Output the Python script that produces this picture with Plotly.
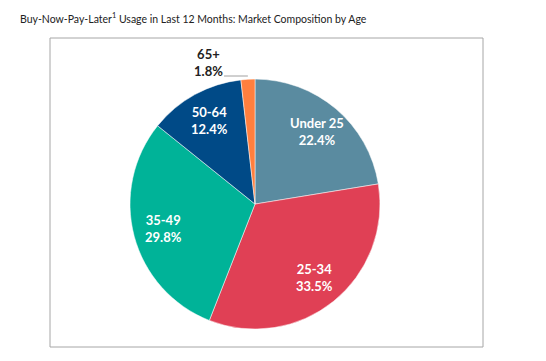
import math
import plotly.graph_objects as go

categories = ["Under 25", "25-34", "35-49", "50-64", "65+"]
shares = [22.4, 33.5, 29.8, 12.4, 1.8]
colors = ["#5A8BA0", "#E04055", "#00B398", "#004A87", "#FF7F3E"]
title_text = "Buy-Now-Pay-Later<sup>1</sup> Usage in Last 12 Months: Market Composition by Age"

W, H = 546, 361
ML, MR, MT, MB = 42, 71, 30, 22
PW, PH = W - ML - MR, H - MT - MB
DOM_X = [0.1848, 0.7621]
DOM_Y = [0.058, 0.867]

fig = go.Figure(go.Pie(
    labels=categories,
    values=shares,
    sort=False,
    direction="clockwise",
    rotation=0,
    marker=dict(colors=colors, line=dict(color="white", width=0.5)),
    textinfo="none",
    domain=dict(x=DOM_X, y=DOM_Y),
    showlegend=False,
    hoverinfo="skip",
))

# pie geometry in pixels within the paper area
cx = (DOM_X[0] + DOM_X[1]) / 2 * PW
cy = (DOM_Y[0] + DOM_Y[1]) / 2 * PH
r = min((DOM_X[1] - DOM_X[0]) * PW, (DOM_Y[1] - DOM_Y[0]) * PH) / 2

total = sum(shares)
cum = 0.0
for i, (lab, v) in enumerate(zip(categories, shares)):
    mid = (cum + v / 2) / total * 2 * math.pi
    cum += v
    if i == len(categories) - 1:
        continue
    k = 0.76
    px = cx + k * r * math.sin(mid)
    py = cy + k * r * math.cos(mid)
    fig.add_annotation(
        x=px / PW, y=py / PH, xref="paper", yref="paper",
        xanchor="center", yanchor="middle",
        text=f"{lab}<br>{v:.1f}%", showarrow=False,
        font=dict(family="Lato", size=13, color="white", weight="bold"),
    )

# outside label for the small slice, with a leader line
fig.add_annotation(
    x=0.365, y=0.921, xref="paper", yref="paper",
    xanchor="center", yanchor="middle",
    text=f"{categories[4]}<br>{shares[4]:.1f}%", showarrow=False,
    font=dict(family="Lato", size=13, color="#222222", weight="bold"),
)
fig.add_shape(type="line", xref="paper", yref="paper",
              x0=0.402, x1=0.457, y0=0.877, y1=0.877,
              line=dict(color="#A0A0A0", width=1))

fig.add_shape(type="rect", xref="paper", yref="paper", x0=0, x1=1, y0=0, y1=1,
              line=dict(color="#A6A6A6", width=1))

fig.update_layout(
    width=W, height=H,
    margin=dict(l=ML, r=MR, t=MT, b=MB),
    paper_bgcolor="white", plot_bgcolor="white",
    title=dict(text=title_text, x=12 / W, xanchor="left", y=1 - 11 / H, yanchor="middle",
               font=dict(family="Lato", size=10.5, color="#222222")),
)

fig.write_html("out.html")
